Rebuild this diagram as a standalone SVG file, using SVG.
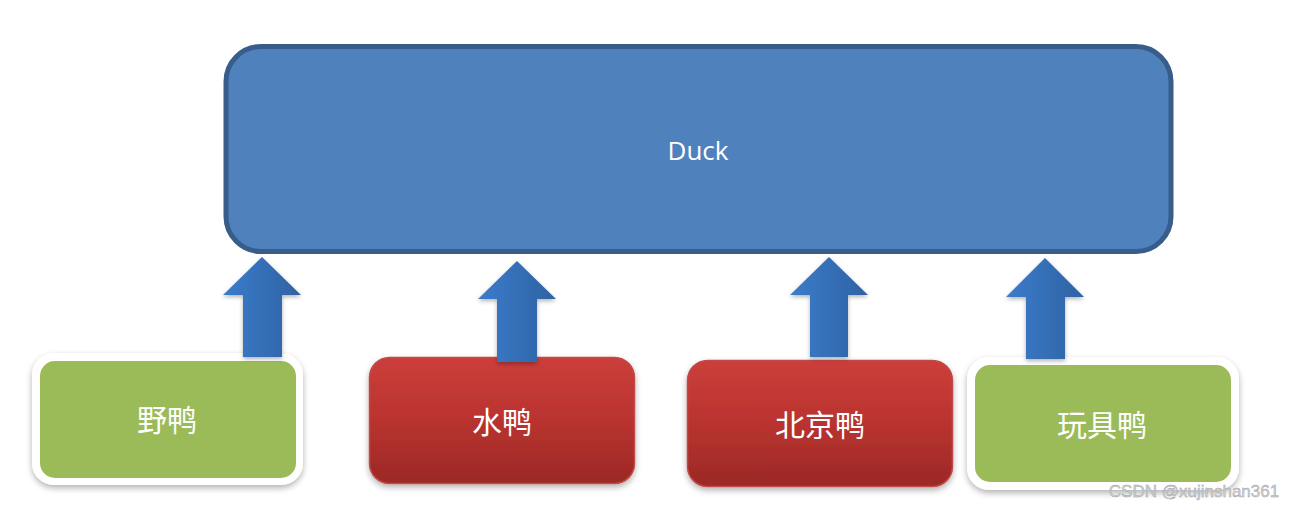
<svg xmlns="http://www.w3.org/2000/svg" width="1295" height="510" viewBox="0 0 1295 510">
<style>
.lbl{font-family:"Noto Sans CJK SC","Noto Sans",sans-serif;font-size:30px;fill:#ffffff;text-anchor:middle;dominant-baseline:central}
.duck{font-family:"Open Sans","Liberation Sans",sans-serif;font-size:26px;fill:#ffffff;text-anchor:middle;dominant-baseline:central}
.green{fill:#9BBB59}
.white{fill:#ffffff}
.red{fill:url(#redg);stroke:#BE4B48;stroke-width:1.5}
.arrow{fill:url(#blueg)}
</style>
<defs>
<linearGradient id="redg" x1="0" y1="0" x2="0" y2="1">
<stop offset="0" stop-color="#CC3E3B"/>
<stop offset="0.5" stop-color="#B9332F"/>
<stop offset="1" stop-color="#9B2926"/>
</linearGradient>
<linearGradient id="blueg" x1="0" y1="0" x2="1" y2="0">
<stop offset="0" stop-color="#3B7CCB"/>
<stop offset="1" stop-color="#2F62A3"/>
</linearGradient>
<filter id="sh" x="-10%" y="-10%" width="120%" height="130%">
<feDropShadow dx="0" dy="3" stdDeviation="3" flood-color="#000" flood-opacity="0.3"/>
</filter>
<filter id="ash" x="-20%" y="-10%" width="140%" height="130%">
<feDropShadow dx="0" dy="2" stdDeviation="2" flood-color="#000" flood-opacity="0.3"/>
</filter>
</defs>
<g id="duck">
<rect x="226" y="46.5" width="945" height="205" rx="35" fill="#4F81BD" stroke="#385D8A" stroke-width="5"/>
<text class="duck" x="698" y="150">Duck</text>
</g>
<g id="wild">
<rect class="white" x="32" y="353" width="271" height="132" rx="22" filter="url(#sh)"/>
<rect class="green" x="40" y="361" width="256" height="117" rx="15"/>
<text class="lbl" x="167" y="418">野鸭</text>
</g>
<g id="water">
<rect class="red" x="369.5" y="357.5" width="265" height="126" rx="20" filter="url(#sh)"/>
<text class="lbl" x="502" y="420">水鸭</text>
</g>
<g id="peking">
<rect class="red" x="687.5" y="360.5" width="265" height="126" rx="20" filter="url(#sh)"/>
<text class="lbl" x="820" y="423">北京鸭</text>
</g>
<g id="toy">
<rect class="white" x="967" y="357" width="272" height="133" rx="22" filter="url(#sh)"/>
<rect class="green" x="975" y="365" width="256" height="117" rx="15"/>
<text class="lbl" x="1102" y="423">玩具鸭</text>
</g>
<g id="connectors">
<path class="arrow" filter="url(#ash)" d="M262,257 L301,295 L282,295 L282,357 L243,357 L243,295 L223,295 Z"/>
<path class="arrow" filter="url(#ash)" d="M517,261 L556,299 L537,299 L537,362 L497,362 L497,299 L478,299 Z"/>
<path class="arrow" filter="url(#ash)" d="M829,257 L868,295 L848,295 L848,357 L810,357 L810,295 L790,295 Z"/>
<path class="arrow" filter="url(#ash)" d="M1045,258 L1084,297 L1065,297 L1065,359 L1026,359 L1026,297 L1006,297 Z"/>
</g>
<text x="1194" y="491" font-family="Liberation Sans,Arial,sans-serif" font-size="17" fill="#d0d0d0" stroke="#a0a0a0" stroke-width="0.4" text-anchor="middle" dominant-baseline="central">CSDN @xujinshan361</text>
</svg>
